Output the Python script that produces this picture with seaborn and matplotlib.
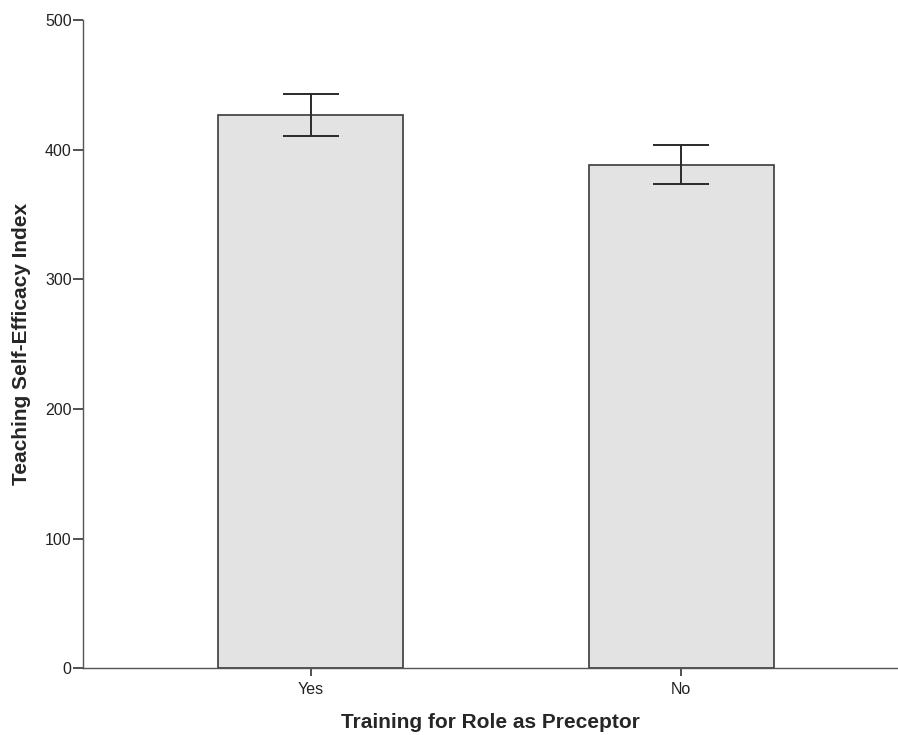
import pandas as pd
import matplotlib.pyplot as plt
import seaborn as sns

# Values
groups = ["Yes", "No"]
means = [426.5, 388.4]
ci_half = [16.2, 15.0]

df = pd.DataFrame({"training": groups, "index": means})

sns.set_style("white")
plt.rcParams['font.family'] = ['Liberation Sans', 'DejaVu Sans']

fig = plt.figure(figsize=(8.98, 7.35), dpi=100)
ax = fig.add_axes([0.0921, 0.0905, 0.9079, 0.8823])

sns.barplot(data=df, x="training", y="index", order=groups, errorbar=None,
            color="#e3e3e3", edgecolor="#3a3a3a", linewidth=1.2, width=0.5,
            saturation=1, ax=ax)

ax.errorbar(x=list(range(len(groups))), y=means, yerr=ci_half, fmt="none",
            ecolor="#2a2a2a", elinewidth=1.4, capsize=20, capthick=1.4)

ax.set_xlim(-0.615, 1.585)
ax.set_ylim(0, 500)
ax.set_yticks([0, 100, 200, 300, 400, 500])

sns.despine(ax=ax, top=True, right=True)
for side in ["left", "bottom"]:
    ax.spines[side].set_color("#555555")
    ax.spines[side].set_linewidth(1.0)

ax.tick_params(axis="both", bottom=True, left=True, direction="out",
               length=7, width=1.2, color="#333333", labelsize=11.5,
               labelcolor="#222222", pad=1)
ax.tick_params(axis="x", length=6, pad=4)

ax.set_xlabel("Training for Role as Preceptor", fontsize=15,
              fontweight="bold", labelpad=11)
ax.set_ylabel("Teaching Self-Efficacy Index", fontsize=15,
              fontweight="bold", labelpad=10)

fig.savefig("out.png", dpi=100)
